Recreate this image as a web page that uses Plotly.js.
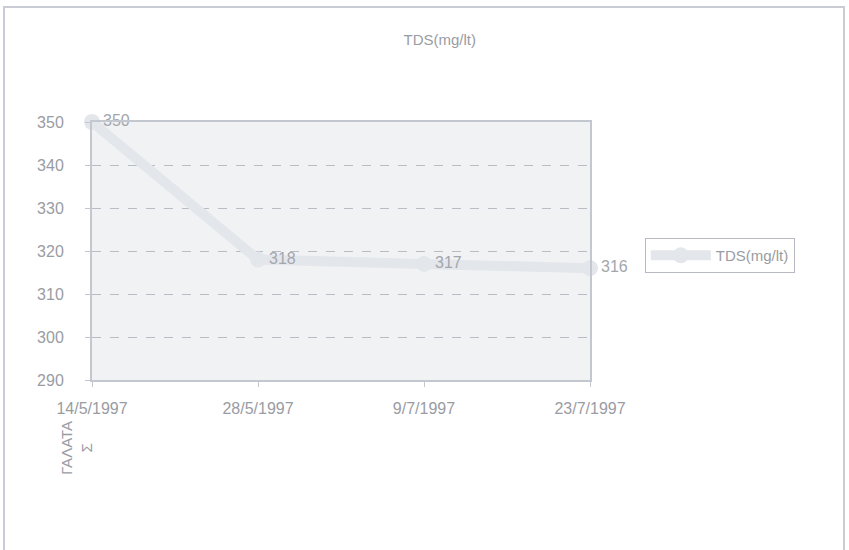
<!DOCTYPE html>
<html>
<head>
<meta charset="utf-8">
<script src="https://cdn.plot.ly/plotly-3.0.1.min.js"></script>
<style>
html,body{margin:0;padding:0;background:#fff;}
#wrap{position:absolute;left:0;top:0;width:849px;height:550px;}
#frame{position:absolute;left:3px;top:6px;width:842px;height:560px;border:2px solid #c9ccd4;box-sizing:border-box;pointer-events:none;}
#chart{position:absolute;left:0;top:0;width:849px;height:550px;}
</style>
</head>
<body>
<div id="wrap">
<div id="chart"></div>
<div id="frame"></div>
</div>
<script>
const categories = ["14/5/1997", "28/5/1997", "9/7/1997", "23/7/1997"];
const tdsValues = [350, 318, 317, 316];
const tdsLabels = ["350", "318", "317", "316"];
const seriesName = "TDS(mg/lt)";
const chartTitle = "TDS(mg/lt)";
const siteLabel = "ΓΑΛΑΤΑ<br>Σ";

const trace = {
  x: categories,
  y: tdsValues,
  type: "scatter",
  mode: "lines+markers+text",
  name: seriesName,
  text: tdsLabels,
  textposition: "middle right",
  textfont: {family: "Arial, Liberation Sans, sans-serif", size: 16, color: "#a3a6ad"},
  line: {color: "#e3e6eb", width: 10},
  marker: {color: "#e3e6eb", size: 16},
  cliponaxis: false
};

const layout = {
  width: 849,
  height: 550,
  margin: {l: 92, r: 259, t: 122, b: 170},
  paper_bgcolor: "#ffffff",
  plot_bgcolor: "#f1f2f4",
  font: {family: "Arial, Liberation Sans, sans-serif", color: "#9a9ca3", size: 14},
  title: {text: chartTitle, x: 0.518, xanchor: "center", y: 0.928, yanchor: "middle",
          font: {size: 15, color: "#9a9ca3"}},
  showlegend: true,
  legend: {x: 1.11, xanchor: "left", y: 0.55, yanchor: "top",
           bordercolor: "#b7bac2", borderwidth: 1, bgcolor: "#ffffff",
           font: {size: 15, color: "#9a9ca3"}, itemwidth: 60},
  xaxis: {
    type: "category",
    range: [0, 3],
    showline: true, linecolor: "#c3c7cf", linewidth: 2, mirror: true,
    ticks: "outside", ticklen: 5, tickcolor: "#c3c7cf",
    showgrid: false,
    tickfont: {size: 16, color: "#9a9ca3"},
    ticklabelstandoff: 8
  },
  yaxis: {
    range: [290, 350],
    dtick: 10,
    showline: true, linecolor: "#c3c7cf", linewidth: 2, mirror: true,
    ticks: "outside", ticklen: 5, tickcolor: "#c3c7cf",
    showgrid: true, gridcolor: "#b9bcc4", griddash: "dash", gridwidth: 1,
    tickfont: {size: 16, color: "#9a9ca3"},
    ticklabelstandoff: 18,
    zeroline: false
  },
  annotations: [{
    text: siteLabel, xref: "paper", yref: "paper",
    x: -0.03, y: -0.15, xanchor: "center", yanchor: "top",
    textangle: -90, showarrow: false,
    font: {size: 15, color: "#9a9ca3"}
  }]
};

Plotly.newPlot("chart", [trace], layout, {displayModeBar: false, staticPlot: true});
</script>
</body>
</html>
